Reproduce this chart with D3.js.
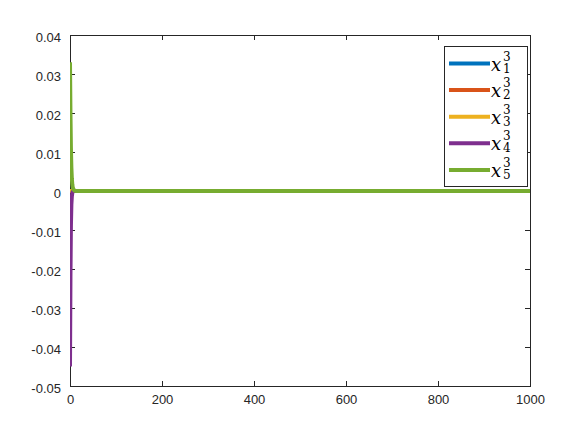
<!DOCTYPE html>
<html>
<head>
<meta charset="utf-8">
<script src="https://cdn.jsdelivr.net/npm/d3@7"></script>
<style>
  body { margin: 0; background: #fff; }
  svg { display: block; }
  .tick text { font-family: "Liberation Sans", Arial, sans-serif; font-size: 13px; fill: #262626; }
  .lgtext { font-family: "DejaVu Serif", serif; fill: #000; }
</style>
</head>
<body>
<div id="chart"></div>
<script>
// sample times (sparse; series are flat after the initial transient)
const times = [0, 1, 2, 3, 4, 5, 6, 8, 10, 12, 15, 20, 50, 100, 200, 400, 600, 800, 1000];

const x1 = [0, 0, 0, 0, 0, 0, 0, 0, 0, 0, 0, 0, 0, 0, 0, 0, 0, 0, 0];
const x2 = [0, 0, 0, 0, 0, 0, 0, 0, 0, 0, 0, 0, 0, 0, 0, 0, 0, 0, 0];
const x3 = [0, 0, 0, 0, 0, 0, 0, 0, 0, 0, 0, 0, 0, 0, 0, 0, 0, 0, 0];
const x4 = [-0.045, -0.022, -0.009, -0.0035, -0.0014, -0.0005, -0.0002, 0, 0, 0, 0, 0, 0, 0, 0, 0, 0, 0, 0];
const x5 = [0.033, 0.02, 0.011, 0.006, 0.0032, 0.0017, 0.0009, 0.0003, 0.0001, 0, 0, 0, 0, 0, 0, 0, 0, 0, 0];

const seriesNames = ['1', '2', '3', '4', '5'];
const seriesValues = [x1, x2, x3, x4, x5];
const colors = ['#0072bd', '#d95319', '#edb120', '#7e2f8e', '#77ac30'];

const xTicks = [0, 200, 400, 600, 800, 1000];
const yTicks = [-0.05, -0.04, -0.03, -0.02, -0.01, 0, 0.01, 0.02, 0.03, 0.04];
const yTickLabels = ['-0.05', '-0.04', '-0.03', '-0.02', '-0.01', '0', '0.01', '0.02', '0.03', '0.04'];

const W = 581, H = 436;
const margin = { left: 70, right: 51, top: 35, bottom: 50 };
const iw = W - margin.left - margin.right;
const ih = H - margin.top - margin.bottom;

const svg = d3.select('#chart').append('svg')
    .attr('width', W)
    .attr('height', H);

const g = svg.append('g')
    .attr('transform', `translate(${margin.left},${margin.top})`);

const x = d3.scaleLinear().domain([0, 1000]).range([0, iw]);
const y = d3.scaleLinear().domain([-0.05, 0.04]).range([ih, 0]);

// axes (ticks inward, box on all sides)
const axisColor = '#262626';
const tickLen = 5;

const axBottom = g.append('g')
    .attr('transform', `translate(0,${ih})`)
    .call(d3.axisBottom(x).tickValues(xTicks).tickSizeInner(-tickLen).tickSizeOuter(0).tickPadding(9).tickFormat(d3.format('d')));
const axLeft = g.append('g')
    .call(d3.axisLeft(y).tickValues(yTicks).tickSizeInner(-tickLen).tickSizeOuter(0).tickPadding(9)
        .tickFormat((d, i) => yTickLabels[i]));
const axTop = g.append('g')
    .call(d3.axisTop(x).tickValues(xTicks).tickSizeInner(-tickLen).tickSizeOuter(0).tickFormat(''));
const axRight = g.append('g')
    .attr('transform', `translate(${iw},0)`)
    .call(d3.axisRight(y).tickValues(yTicks).tickSizeInner(-tickLen).tickSizeOuter(0).tickFormat(''));

[axBottom, axLeft, axTop, axRight].forEach(a => {
    a.selectAll('path, line').attr('stroke', axisColor).attr('stroke-width', 1).attr('shape-rendering', 'crispEdges');
});
axLeft.selectAll('.tick text').attr('dy', '0.5em');

// lines
const line = d3.line()
    .x((d, i) => x(times[i]))
    .y(d => y(d));

svg.append('clipPath').attr('id', 'clip')
    .append('rect').attr('x', 0).attr('y', -3).attr('width', iw).attr('height', ih + 6);

const plot = g.append('g').attr('clip-path', 'url(#clip)');
seriesValues.forEach((vals, k) => {
    plot.append('path')
        .datum(vals)
        .attr('fill', 'none')
        .attr('stroke', colors[k])
        .attr('stroke-width', 4)
        .attr('stroke-linejoin', 'round')
        .attr('d', line);
});

// legend
const lg = svg.append('g').attr('transform', 'translate(444,46)');
const lw = 83, lh = 140;
lg.append('rect')
    .attr('width', lw).attr('height', lh)
    .attr('fill', '#fff')
    .attr('stroke', axisColor)
    .attr('stroke-width', 1)
    .attr('shape-rendering', 'crispEdges');

seriesNames.forEach((name, k) => {
    const cy = 17.5 + k * 26.6;
    lg.append('line')
        .attr('x1', 5).attr('x2', 46)
        .attr('y1', cy).attr('y2', cy)
        .attr('stroke', colors[k])
        .attr('stroke-width', 4);
    lg.append('text').attr('class', 'lgtext')
        .attr('x', 47).attr('y', cy + 7)
        .attr('font-style', 'italic').attr('font-size', 18)
        .text('x');
    lg.append('text').attr('class', 'lgtext')
        .attr('x', 59).attr('y', cy - 3)
        .attr('font-size', 12)
        .text('3');
    lg.append('text').attr('class', 'lgtext')
        .attr('x', 59).attr('y', cy + 9)
        .attr('font-size', 12)
        .text(name);
});
</script>
</body>
</html>
